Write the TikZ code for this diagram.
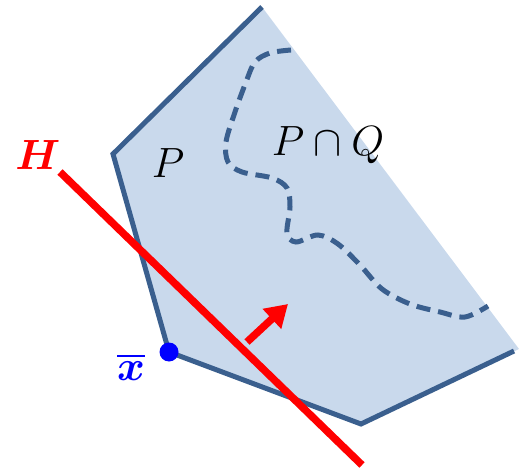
\documentclass[tikz,border=0pt]{standalone}
\usepackage{amsmath,amssymb,bm}
\usetikzlibrary{arrows.meta}
\definecolor{polyfill}{HTML}{C9D9EC}
\definecolor{polyline}{HTML}{3A5F8E}
\tikzset{
  edge/.style={draw=polyline, line width=5pt, line join=miter},
  hyper/.style={draw=red, line width=7.5pt},
  dir/.style={draw=red, line width=7.5pt, -{Triangle[length=22pt,width=26pt]}},
  region/.style={draw=polyline, line width=5pt, dash pattern=on 14pt off 8pt},
  lbl/.style={font=\Huge, scale=1.7, inner sep=0pt}
}
\begin{document}
\begin{tikzpicture}[x=1pt,y=-1pt]
\useasboundingbox (0,0) rectangle (524,470);
\coordinate (T) at (262,7);
\coordinate (L) at (113,154);
\coordinate (X) at (169,352);
\coordinate (B) at (361,424);
\coordinate (R) at (519,349);
\coordinate (Re) at (514,351);
\fill[polyfill] (T) -- (L) -- (X) -- (B) -- (R) -- cycle;
\draw[edge] (T) -- (L) -- (X) -- (B) -- (Re);
\draw[region] plot[smooth, tension=0.55] coordinates {
 (291,50) (270,53) (255,62) (246,82) (235,112) (226,142) (228,162) (242,172)
 (272,178) (287,188) (290,207) (287,233) (296,242) (318,235) (338,244)
 (360,265) (382,289) (410,304) (440,312) (465,317) (488,306)};
\coordinate (H1) at (60,172);
\coordinate (H2) at (362,465);
\draw[hyper] (H1) -- (H2);
\coordinate (A1) at (247,342);
\coordinate (A2) at (288,304);
\draw[dir] (A1) -- (A2);
\fill[blue] (X) circle (9.5);
\node[lbl] (lP) at (168,163) {$P$};
\node[lbl] (lPQ) at (328,145) {$P\cap Q$};
\node[lbl, text=red] (lH) at (38,155) {$\bm{H}$};
\node[lbl, text=blue] (lx) at (131,367) {$\overline{\bm{x}}$};
\end{tikzpicture}
\end{document}
